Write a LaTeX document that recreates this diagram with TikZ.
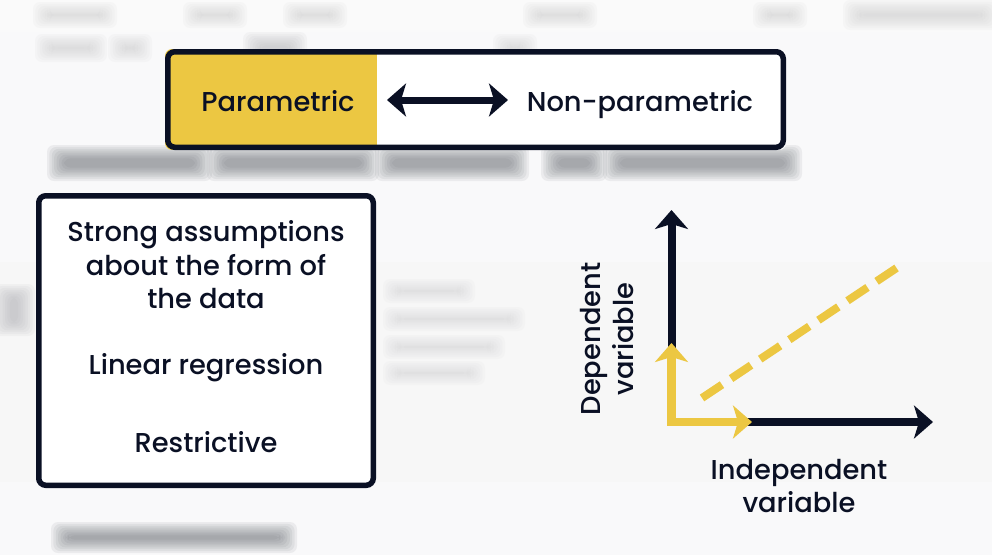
\documentclass[tikz,border=0pt]{standalone}
\usepackage{fontspec}
\setmainfont{Poppins}[UprightFont=* Medium]
\usetikzlibrary{arrows.meta,calc}

\definecolor{ink}{RGB}{10,16,36}
\definecolor{gold}{RGB}{236,199,66}
\definecolor{paper}{RGB}{249,249,250}
\definecolor{smudge}{RGB}{100,102,108}

% soft grey smear used for the out-of-focus screen behind the slide
\newcommand\smear[5]{%
  \foreach \k in {0,...,7}{%
    \fill[#5,opacity=0.09,rounded corners=7pt]
      (#1-7+\k*2.4,#2-6+\k*1.9) rectangle (#3+7-\k*2.4,#4+6-\k*1.9);}}

\tikzset{
  lbl/.style={text=ink,font=\fontsize{27.3}{33.5}\selectfont,align=center,inner sep=0pt},
  frame/.style={draw=ink,line width=5.5pt,rounded corners=7pt},
  axis/.style={draw=ink,line width=8pt,-{Stealth[length=19pt,width=33pt,inset=5pt]}},
  gaxis/.style={draw=gold,line width=8.5pt,line join=miter,
    {Stealth[length=19pt,width=33pt,inset=5pt]}-{Stealth[length=19pt,width=33pt,inset=5pt]}},
  trend/.style={draw=gold,line width=8pt,dash pattern=on 24pt off 11pt},
  swap/.style={draw=ink,line width=7pt,
    {Stealth[length=19pt,width=33pt,inset=5pt]}-{Stealth[length=19pt,width=33pt,inset=5pt]}}
}

\begin{document}
\begin{tikzpicture}[x=1pt,y=-1pt]
\useasboundingbox (0,0) rectangle (992,555);
\fill[paper] (0,0) rectangle (992,555);

% blurred screen behind
\fill[black!3] (0,262) rectangle (992,482);
\fill[black!2] (0,0) rectangle (992,32);
\smear{40}{8}{110}{22}{smudge!35}
\smear{190}{8}{240}{22}{smudge!35}
\smear{290}{8}{340}{22}{smudge!35}
\smear{530}{8}{590}{22}{smudge!35}
\smear{760}{8}{800}{22}{smudge!35}
\smear{850}{6}{992}{24}{smudge!35}
\smear{42}{40}{100}{56}{smudge!35}
\smear{115}{40}{145}{56}{smudge!35}
\smear{250}{38}{300}{58}{smudge!50}
\smear{500}{40}{530}{56}{smudge!35}
\smear{54}{151}{205}{175}{smudge}
\smear{214}{151}{372}{175}{smudge}
\smear{382}{151}{522}{175}{smudge}
\smear{548}{151}{600}{175}{smudge}
\smear{610}{151}{795}{175}{smudge}
\smear{0}{290}{28}{330}{smudge!55}
\smear{390}{285}{468}{297}{smudge!30}
\smear{390}{313}{518}{325}{smudge!30}
\smear{390}{341}{498}{353}{smudge!30}
\smear{390}{367}{478}{379}{smudge!30}
\smear{58}{528}{290}{547}{smudge}

% parametric / non-parametric bar
\coordinate (tbA) at (165,49);
\coordinate (tbB) at (786,150);
\begin{scope}
  \clip[rounded corners=7pt] (tbA) rectangle (tbB);
  \fill[white] (tbA) rectangle (tbB);
  \fill[gold] (tbA) rectangle (377,150);
\end{scope}
\draw[frame] ($(tbA)+(2.75,2.75)$) rectangle ($(tbB)-(2.75,2.75)$);
\node[lbl,anchor=base] (par) at (278,111) {Parametric};
\node[lbl,anchor=base] (npar) at (640,111) {Non-parametric};
\coordinate (swL) at (387,100);
\coordinate (swR) at (508,100);
\draw[swap] (swL) -- (swR);

% description box
\draw[frame,fill=white] (38.75,195.75) rectangle (373.25,485.25);
\node[lbl] (assume) at (206,265) {Strong assumptions\\about the form of\\the data};
\node[lbl] (linreg) at (206,368) {Linear regression};
\node[lbl] (restr) at (206,442) {Restrictive};

% axes
\coordinate (O) at (671.5,422);
\coordinate (ytip) at (671.5,210);
\coordinate (xtip) at (933,422);
\draw[axis] ([yshift=4pt]O) -- (ytip);
\draw[axis] ([xshift=-4pt]O) -- (xtip);
\coordinate (gy) at (671.5,343);
\coordinate (gx) at (752,422);
\draw[gaxis] (gy) -- (O) -- (gx);
\coordinate (t0) at (702,398);
\coordinate (t1) at (901,265);
\draw[trend] (t0) -- (t1);

\node[lbl,rotate=90] (dep) at (607,339) {Dependent\\variable};
\node[lbl] (indep) at (799,486) {Independent\\variable};
\end{tikzpicture}
\end{document}
